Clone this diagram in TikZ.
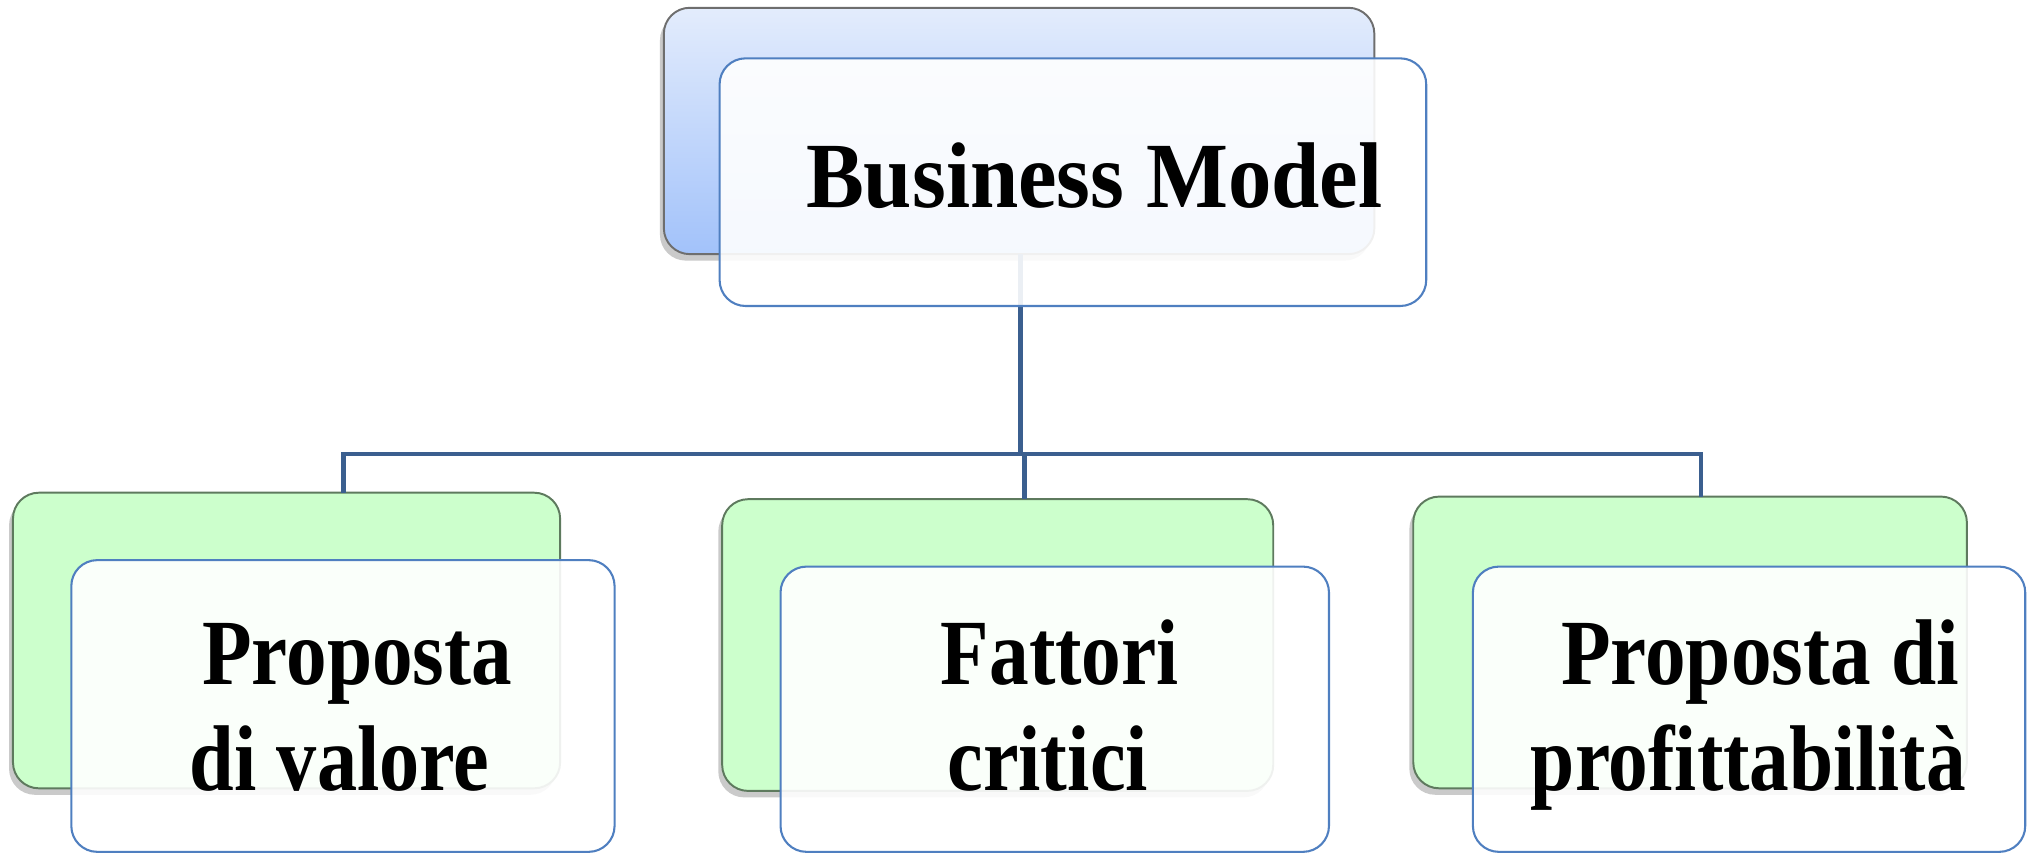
\documentclass[tikz,border=0pt]{standalone}
\usepackage{fontspec}
\setmainfont{Liberation Serif}
\usetikzlibrary{shadows}
\definecolor{topA}{HTML}{E3ECFC}
\definecolor{topB}{HTML}{A2C2FA}
\definecolor{greenfill}{HTML}{CCFFCC}
\definecolor{greenedge}{HTML}{5E7A5E}
\definecolor{grayedge}{HTML}{6E6E6E}
\definecolor{frontedge}{HTML}{4F7FC0}
\definecolor{conncol}{HTML}{3B5F8F}
\begin{document}
\begin{tikzpicture}[x=1pt,y=-1pt,
  box/.style={rectangle, rounded corners=20pt, inner sep=0pt, outer sep=0pt},
  backblue/.style={box, draw=grayedge, line width=1.5pt, top color=topA, bottom color=topB,
     drop shadow={shadow xshift=-3pt, shadow yshift=-5pt, opacity=0.35, fill=black!60}},
  backgreen/.style={box, draw=greenedge, line width=1.5pt, fill=greenfill,
     drop shadow={shadow xshift=-3pt, shadow yshift=-5pt, opacity=0.35, fill=black!60}},
  front/.style={box, draw=frontedge, line width=1.6pt, fill=white, fill opacity=0.9, draw opacity=1},
  conn/.style={draw=conncol, line width=3.5pt},
  txt/.style={font=\bfseries\fontsize{72}{82}\selectfont, inner sep=0pt, anchor=base, text=black}]
\useasboundingbox (0,0) rectangle (1568,659.4);
% back boxes
\node[backblue, minimum width=548pt, minimum height=190pt] (tb) at (786,101) {};
\node[backgreen, minimum width=422pt, minimum height=228pt] (lb) at (221,494) {};
\node[backgreen, minimum width=425pt, minimum height=225pt] (mb) at (769.5,497.5) {};
\node[backgreen, minimum width=427pt, minimum height=225pt] (rb) at (1303.5,495.5) {};
% connectors
\coordinate (bus) at (787,350);
\coordinate (lx) at (265,0);
\coordinate (mx) at (790,0);
\coordinate (rx) at (1312,0);
\draw[conn] (tb.south -| bus) -- (bus);
\draw[conn] (lb.north -| lx) |- (bus) -| (rb.north -| rx);
\draw[conn] (mb.north -| mx) -- (bus -| mx);
% front boxes
\node[front, minimum width=545pt, minimum height=191pt] (tf) at (827.5,140.5) {};
\node[front, minimum width=419pt, minimum height=225pt] (lf) at (264.5,544.5) {};
\node[front, minimum width=423pt, minimum height=220pt] (mf) at (813.5,547) {};
\node[front, minimum width=426pt, minimum height=220pt] (rf) at (1349,547) {};
% texts
\node[txt, xscale=0.93] (tt) at (844,160) {Business Model};
\node[txt, xscale=0.87] (l1) at (275.5,528) {Proposta};
\node[txt, xscale=0.86] (l2) at (262,610) {di valore};
\node[txt, xscale=0.85] (m1) at (817.5,528) {Fattori};
\node[txt, xscale=0.86] (m2) at (808,610) {critici};
\node[txt, xscale=0.87] (r1) at (1357.5,528) {Proposta di};
\node[txt, xscale=0.85] (r2) at (1348.5,610) {profittabilità};
\end{tikzpicture}
\end{document}
